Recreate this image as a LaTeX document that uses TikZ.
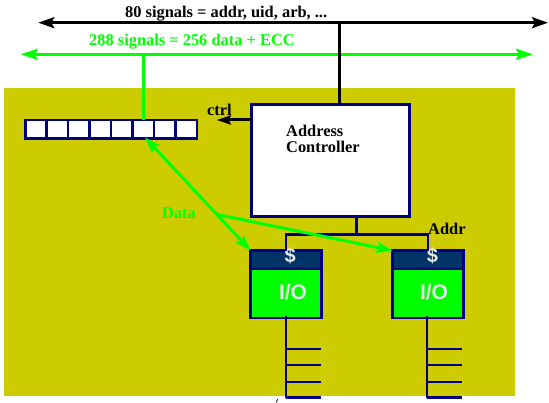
\documentclass[tikz,border=0pt]{standalone}
\usepackage{fontspec}
\setmainfont{Liberation Serif}
\newfontfamily\unitfont{Liberation Sans}
\usetikzlibrary{arrows.meta,calc}
\definecolor{boardolive}{RGB}{204,204,0}
\definecolor{busgreen}{RGB}{0,255,0}
\definecolor{navyline}{RGB}{0,0,128}
\definecolor{cachenavy}{RGB}{0,51,102}
\definecolor{unittext}{RGB}{232,232,232}
\tikzset{
  lbl/.style={anchor=base west, inner sep=0, font=\fontsize{16.4}{18}\selectfont\bfseries},
  blackbus/.style={line width=3pt, draw=black, {Stealth[length=16pt,width=11pt,inset=3pt]}-{Stealth[length=16pt,width=11pt,inset=3pt]}},
  greenbus/.style={line width=3pt, draw=busgreen, {Stealth[length=17pt,width=11pt,inset=3pt]}-{Stealth[length=17pt,width=11pt,inset=3pt]}},
  cellbox/.style={draw=navyline, line width=2.5pt, fill=white, minimum width=21.44pt, minimum height=18.5pt, inner sep=0, outer sep=0},
  ctlbox/.style={draw=navyline, line width=2.7pt, fill=white, minimum width=158.3pt, minimum height=112.5pt, inner sep=0, outer sep=0},
  cachebox/.style={draw=navyline, line width=2.7pt, fill=cachenavy, minimum width=70.7pt, minimum height=18.4pt, inner sep=0, outer sep=0},
  iobox/.style={draw=navyline, line width=2.7pt, fill=busgreen, minimum width=70.7pt, minimum height=49pt, inner sep=0, outer sep=0},
  wire/.style={draw=navyline, line width=2.7pt},
  dataline/.style={draw=busgreen, line width=3pt},
  datatip/.style={-{Stealth[length=16pt,width=11pt,inset=3pt]}},
  unitlbl/.style={anchor=base, inner sep=0, text=unittext}
}
\begin{document}
\begin{tikzpicture}[x=1pt,y=-1pt]
\useasboundingbox (0,0) rectangle (549,403);

% board
\fill[boardolive] (3.5,88.5) rectangle (515,396);

% system buses
\coordinate (bL) at (38.3,22.7);
\coordinate (bR) at (548,22.7);
\coordinate (gL) at (20.7,54.3);
\coordinate (gR) at (533,54.3);
\coordinate (bjoin) at (339.3,22.7);
\draw[blackbus] (bL) -- (bR);
\draw[greenbus] (gL) -- (gR);
\node[lbl] (blabel) at (125,17.3) {80 signals = addr, uid, arb, ...};
\node[lbl, text=busgreen] (glabel) at (89,46) {288 signals = 256 data + ECC};

% data buffer cells
\foreach \i in {1,...,8}
  \node[cellbox] (c\i) at ({25.25+21.44*(\i-0.5)},129.5) {};
\draw[dataline] (c6.north) -- (c6.north |- gL);

% address controller
\node[ctlbox] (ctl) at (330.5,160.6) {};
\draw[line width=3pt] (bjoin) -- (bjoin |- ctl.north);
\node[lbl] (ctltxt1) at (286,136.7) {Address};
\node[lbl] (ctltxt2) at (286,152.7) {Controller};

% ctrl output
\coordinate (ctrlend) at (216.7,120);
\draw[line width=3pt, -{Stealth[length=14pt,width=9pt,inset=2pt]}] (ctl.west |- ctrlend) -- (ctrlend);
\node[lbl] (ctrllbl) at (207,116) {ctrl};

% I/O units with caches
\node[cachebox, anchor=north] (cache1) at (286,250.65) {};
\node[iobox, anchor=north] (io1) at (cache1.south) {};
\node[cachebox, anchor=north] (cache2) at (428,250.65) {};
\node[iobox, anchor=north] (io2) at (cache2.south) {};
\node[unitlbl, font=\unitfont\fontsize{20}{22}\selectfont\bfseries] (d1) at (290.3,263) {\$};
\node[unitlbl, font=\unitfont\fontsize{20}{22}\selectfont\bfseries] (d2) at (432.5,263) {\$};
\node[unitlbl, font=\unitfont\fontsize{21}{23}\selectfont\bfseries] (t1) at (293,300) {I/O};
\node[unitlbl, font=\unitfont\fontsize{21}{23}\selectfont\bfseries] (t2) at (434,300) {I/O};

% address distribution
\coordinate (asplit) at (356.7,234.3);
\draw[wire] (asplit |- ctl.south) -- (asplit);
\draw[wire] (cache1.north) -- (cache1.north |- asplit) -- (cache2.north |- asplit) -- (cache2.north);
\node[lbl] (addrlbl) at (428,234.3) {Addr};

% device combs
\foreach \u/\x in {io1/286, io2/427} {
  \draw[wire] (\x,316) -- (\x,398);
  \foreach \y in {349,365,382,397.5}
    \draw[wire] (\x,\y) -- ++(35,0);
}

% data paths
\coordinate (dtop) at (145,137.5);
\coordinate (dsplit) at ($(dtop)!0.68!(cache1.north west)$);
\draw[dataline, {Stealth[length=16pt,width=11pt,inset=3pt]}-{Stealth[length=16pt,width=11pt,inset=3pt]}] (dtop) -- (cache1.north west);
\draw[dataline, datatip] (dsplit) -- (cache2.north west);
\node[lbl, text=busgreen] (datalbl) at (162,219) {Data};

% stray stroke at the bottom edge
\draw[line width=0.8pt] (276.2,402.5) -- (277.6,399.3);
\end{tikzpicture}
\end{document}
